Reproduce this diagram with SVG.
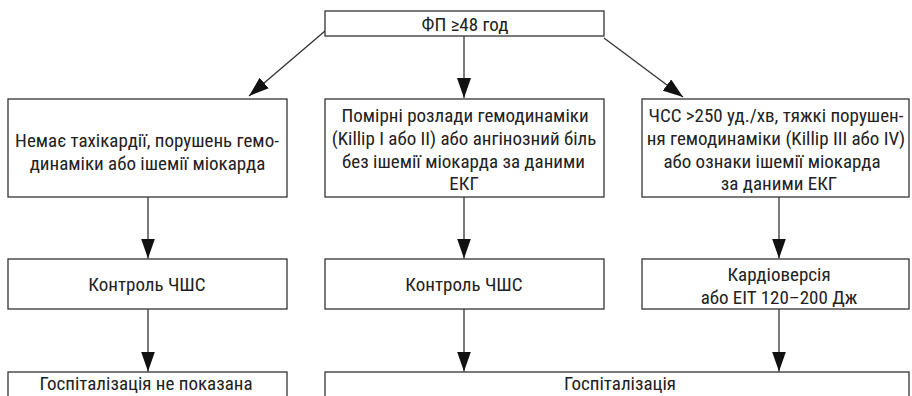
<svg xmlns="http://www.w3.org/2000/svg" width="912" height="396" viewBox="0 0 912 396">
<style>
rect{fill:#fff;stroke:#333;stroke-width:1.3}
text{font-family:"Roboto Condensed","Liberation Sans Narrow","Liberation Sans",Arial,sans-serif;font-size:19px;fill:#222;text-anchor:middle}
.c line{stroke:#333;stroke-width:1.3;marker-end:url(#ah)}
</style>
<defs>
<marker id="ah" markerUnits="userSpaceOnUse" markerWidth="20" markerHeight="14" refX="20" refY="7" orient="auto" viewBox="0 0 20 14">
<path d="M0,0 L20,7 L0,14 z" fill="#111"/>
</marker>
</defs>
<rect x="0" y="0" width="912" height="396" style="stroke:none"/>
<g class="c" id="connectors">
<line x1="325" y1="31" x2="249" y2="96"/>
<line x1="464" y1="36" x2="464" y2="98"/>
<line x1="604" y1="38" x2="683" y2="97"/>
<line x1="148" y1="197" x2="148" y2="258.5"/>
<line x1="464" y1="197" x2="464" y2="258.5"/>
<line x1="779" y1="197" x2="779" y2="258.5"/>
<line x1="148" y1="309" x2="148" y2="371.5"/>
<line x1="464" y1="309" x2="464" y2="371.5"/>
<line x1="779" y1="309" x2="779" y2="371.5"/>
</g>
<g id="start">
<rect x="325" y="11" width="279" height="25"/>
<text x="465" y="31">ФП ≥48 год</text>
</g>
<g id="no-tachy">
<rect x="8" y="99" width="279" height="98"/>
<text x="147" y="147">Немає тахікардії, порушень гемо-</text>
<text x="147.5" y="169.5">динаміки або ішемії міокарда</text>
</g>
<g id="moderate">
<rect x="325" y="99" width="279" height="98"/>
<text x="465" y="122">Помірні розлади гемодинаміки</text>
<text x="464" y="145">(Killip I або II) або ангінозний біль</text>
<text x="463.5" y="167.5">без ішемії міокарда за даними</text>
<text x="464" y="190">ЕКГ</text>
</g>
<g id="severe">
<rect x="642" y="99" width="267" height="98"/>
<text x="776" y="122">ЧСС &gt;250 уд./хв, тяжкі порушен-</text>
<text x="776" y="145">ня гемодинаміки (Killip III або IV)</text>
<text x="772" y="167.5">або ознаки ішемії міокарда</text>
<text x="779" y="190">за даними ЕКГ</text>
</g>
<g id="rate1">
<rect x="8" y="259" width="279" height="50"/>
<text x="147" y="291">Контроль ЧШС</text>
</g>
<g id="rate2">
<rect x="325" y="259" width="279" height="50"/>
<text x="464" y="291">Контроль ЧШС</text>
</g>
<g id="cardioversion">
<rect x="642" y="259" width="267" height="50"/>
<text x="779" y="281">Кардіоверсія</text>
<text x="779" y="303.5">або ЕІТ 120–200 Дж</text>
</g>
<g id="no-hosp">
<rect x="8" y="372" width="279" height="40"/>
<text x="146" y="390">Госпіталізація не показана</text>
</g>
<g id="hosp">
<rect x="325" y="372" width="584" height="40"/>
<text x="620" y="390">Госпіталізація</text>
</g>
</svg>
